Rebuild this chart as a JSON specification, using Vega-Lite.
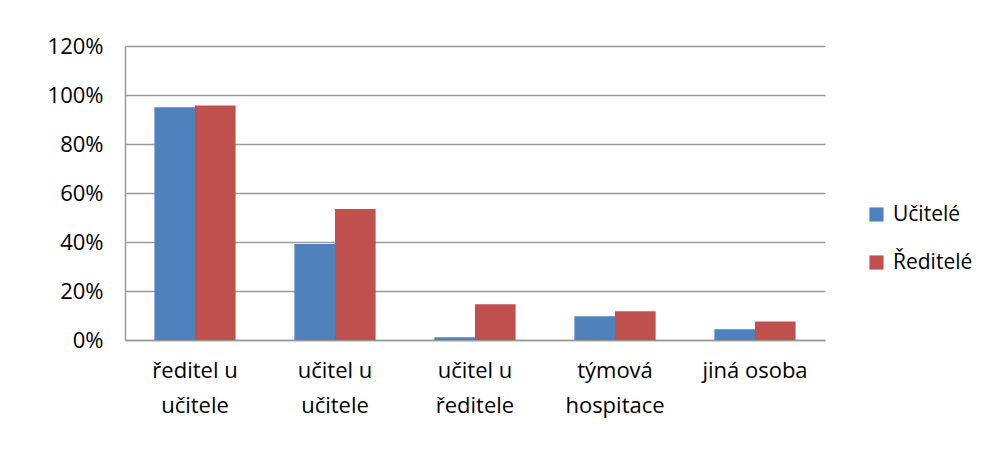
{
  "$schema": "https://vega.github.io/schema/vega-lite/v6.json",
  "width": 700,
  "height": 294,
  "autosize": {"type": "none"},
  "padding": {"left": 125, "top": 46, "right": 176, "bottom": 124},
  "background": "white",
  "config": {
    "view": {"stroke": null},
    "font": "Open Sans",
    "axis": {"labelFont": "Open Sans", "labelColor": "#000000"},
    "legend": {"labelFont": "Open Sans", "labelColor": "#000000"}
  },
  "data": {
    "values": [
      {"cat": "ředitel u\nučitele", "group": "Učitelé", "value": 0.95},
      {"cat": "ředitel u\nučitele", "group": "Ředitelé", "value": 0.957},
      {"cat": "učitel u\nučitele", "group": "Učitelé", "value": 0.392},
      {"cat": "učitel u\nučitele", "group": "Ředitelé", "value": 0.535},
      {"cat": "učitel u\nředitele", "group": "Učitelé", "value": 0.011},
      {"cat": "učitel u\nředitele", "group": "Ředitelé", "value": 0.146},
      {"cat": "týmová\nhospitace", "group": "Učitelé", "value": 0.097},
      {"cat": "týmová\nhospitace", "group": "Ředitelé", "value": 0.117},
      {"cat": "jiná osoba", "group": "Učitelé", "value": 0.044},
      {"cat": "jiná osoba", "group": "Ředitelé", "value": 0.076}
    ]
  },
  "mark": {"type": "bar"},
  "encoding": {
    "x": {
      "field": "cat",
      "type": "nominal",
      "sort": null,
      "title": null,
      "scale": {"paddingInner": 0.42, "paddingOuter": 0.21},
      "axis": {
        "labelAngle": 0,
        "labelExpr": "split(datum.label, '\\n')",
        "labelFontSize": 22,
        "labelPadding": 30,
        "labelLineHeight": 35,
        "labelBaseline": "middle",
        "ticks": false,
        "domainColor": "#9a9a9a",
        "domainWidth": 1.5
      }
    },
    "xOffset": {"field": "group", "type": "nominal", "sort": ["Učitelé", "Ředitelé"], "scale": {"paddingInner": 0, "paddingOuter": 0}},
    "y": {
      "field": "value",
      "type": "quantitative",
      "title": null,
      "scale": {"domain": [0, 1.2], "nice": false},
      "axis": {
        "values": [0, 0.2, 0.4, 0.6, 0.8, 1.0, 1.2],
        "format": ".0%",
        "labelFontSize": 22,
        "labelPadding": 22,
        "ticks": false,
        "gridColor": "#9a9a9a",
        "gridWidth": 1.5,
        "domainColor": "#9a9a9a",
        "domainWidth": 1.5
      }
    },
    "color": {
      "field": "group",
      "type": "nominal",
      "sort": ["Učitelé", "Ředitelé"],
      "scale": {"domain": ["Učitelé", "Ředitelé"], "range": ["#4F81BD", "#C0504D"]},
      "legend": {
        "title": null,
        "orient": "none",
        "legendX": 741,
        "legendY": 158,
        "symbolType": "square",
        "symbolSize": 200,
        "symbolStrokeWidth": 0,
        "labelFontSize": 21,
        "rowPadding": 26,
        "labelOffset": 6
      }
    }
  }
}
